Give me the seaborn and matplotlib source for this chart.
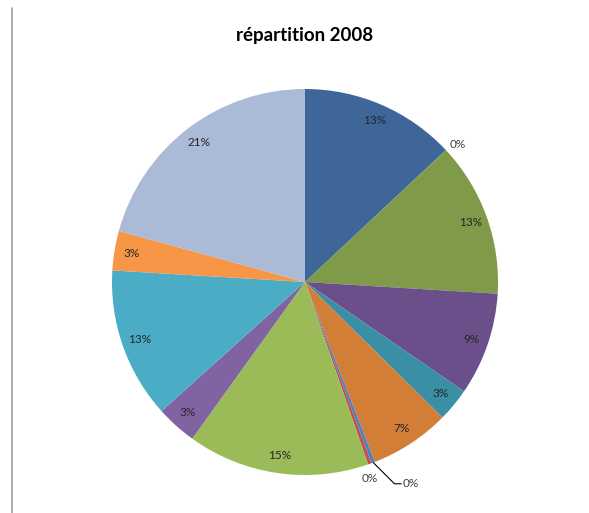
import numpy as np
import matplotlib
matplotlib.use("Agg")
import matplotlib.pyplot as plt
import seaborn as sns
from matplotlib.lines import Line2D

# ── Data (clockwise from 12 o'clock) ─────────────────────────────────────────
TITLE  = "répartition 2008"
shares = [13.0, 0.02, 12.9, 8.6, 2.8, 6.7, 0.3, 0.3, 15.2, 3.4, 12.6, 3.3, 20.7]
colors = ["#3E6698", "#3E6698", "#7F9A48", "#6A4F8A", "#3A8FA5", "#D27E37",
          "#4F81BD", "#C0504D", "#9BBB59", "#8064A2", "#4BACC6", "#F79646",
          "#AABAD7"]

sns.set_theme(style="white")
plt.rcParams["font.family"] = ["Lato", "DejaVu Sans"]

W, H = 589, 513
fig = plt.figure(figsize=(W / 100, H / 100), dpi=100)
cx, cy, R = 305, 282, 193
ax = fig.add_axes([(cx - R) / W, (H - cy - R) / H, 2 * R / W, 2 * R / H])

wedges, _ = ax.pie(shares, colors=colors, startangle=90, counterclock=False,
                   radius=1.0, wedgeprops={"linewidth": 0})
ax.set_xlim(-1, 1); ax.set_ylim(-1, 1)
ax.set_aspect("equal")
ax.axis("off")

total = sum(shares)
for i, (w, v) in enumerate(zip(wedges, shares)):
    mid = np.deg2rad((w.theta1 + w.theta2) / 2)
    txt = f"{round(v / total * 100):d}%"
    if i == 6:
        # blue sliver: label pulled out with a leader line
        x0, y0 = np.cos(mid), np.sin(mid)
        ax.plot([x0, x0 + 0.11, x0 + 0.145], [y0, y0 - 0.11, y0 - 0.11],
                color="black", lw=0.8, clip_on=False)
        ax.text(x0 + 0.15, y0 - 0.11, txt, ha="left", va="center",
                fontsize=8.5, color="#404040")
    elif i == 1:
        ax.text(1.07 * np.cos(mid) + 0.01, 1.07 * np.sin(mid) - 0.02, txt,
                ha="center", va="center", fontsize=8.5, color="#404040")
    elif i == 7:
        ax.text(1.07 * np.cos(mid) - 0.025, 1.07 * np.sin(mid) - 0.01, txt,
                ha="center", va="center", fontsize=8.5, color="#404040")
    else:
        d = 0.91
        ax.text(d * np.cos(mid), d * np.sin(mid), txt, ha="center", va="center",
                fontsize=8.5, color="#262626")

fig.text(305 / W, 1 - 36 / H, TITLE, ha="center", va="center",
         fontsize=13.5, fontweight="bold", color="black")

# left frame line
fig.add_artist(Line2D([11.5 / W, 11.5 / W], [0, 1 - 8 / H],
                      transform=fig.transFigure, color="#A0A0A0", lw=1.2))

fig.savefig("out.png", dpi=100)
